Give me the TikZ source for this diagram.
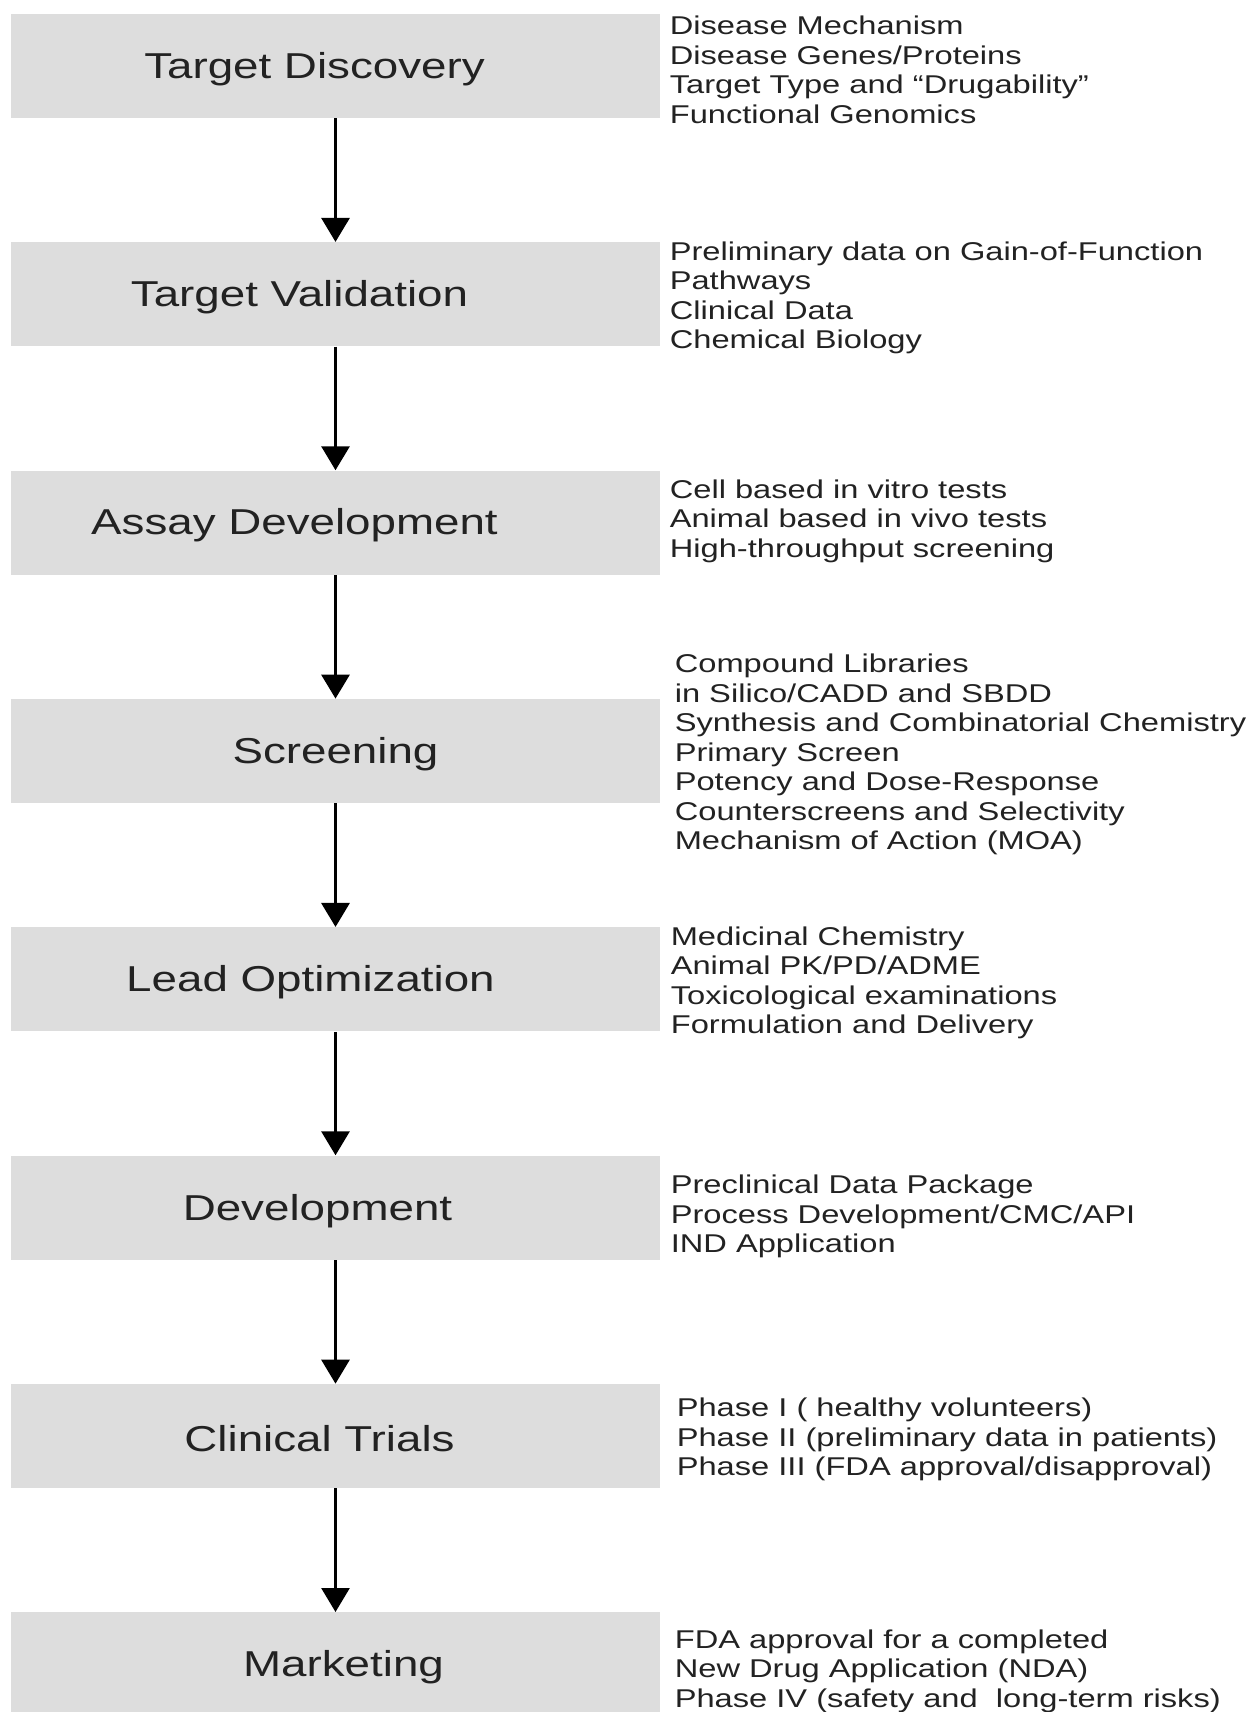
\documentclass[tikz,border=0pt]{standalone}
\usepackage{fontspec}
\setmainfont{Liberation Sans}[FakeStretch=1.27]
\usetikzlibrary{arrows.meta,positioning}

\definecolor{boxgray}{RGB}{221,221,221}
\definecolor{ink}{RGB}{34,34,34}

\begin{document}
\begin{tikzpicture}[>={Triangle[length=12pt,width=14pt]},node distance=114.17pt,
                    stage/.style={fill=boxgray,minimum width=324.5pt,minimum height=52pt,inner sep=0pt},
                    stagelabel/.style={text=ink,font=\fontsize{18}{21}\selectfont,inner sep=0pt,yshift=-1.5pt},
                    notes/.style={text=ink,font=\fontsize{12.85}{14.75}\selectfont,align=left,inner sep=0pt,yshift=-1.8pt},
                    flow/.style={->,line width=1.5pt}]

  \useasboundingbox (0,0) rectangle (625pt,-856pt);

  \node[stage]         (td) at (167.75pt,-33pt) {};
  \node[stage]         (tv) [below of=td] {};
  \node[stage]         (ad) [below of=tv] {};
  \node[stage]         (sc) [below of=ad] {};
  \node[stage]         (lo) [below of=sc] {};
  \node[stage]         (dv) [below of=lo] {};
  \node[stage]         (ct) [below of=dv] {};
  \node[stage]         (mk) [below of=ct] {};

  \node[stagelabel, xshift=-10.5pt] (tdl) at (td) {Target Discovery};
  \node[stagelabel, xshift=-18pt]   (tvl) at (tv) {Target Validation};
  \node[stagelabel, xshift=-20.5pt] (adl) at (ad) {Assay Development};
  \node[stagelabel]                 (scl) at (sc) {Screening};
  \node[stagelabel, xshift=-12.5pt] (lol) at (lo) {Lead Optimization};
  \node[stagelabel, xshift=-9pt]    (dvl) at (dv) {Development};
  \node[stagelabel, xshift=-8pt]    (ctl) at (ct) {Clinical Trials};
  \node[stagelabel, xshift=4pt]     (mkl) at (mk) {Marketing};

  \node[notes] (tdn) [right=4.5pt of td]
    {Disease Mechanism\\Disease Genes/Proteins\\Target Type and “Drugability”\\Functional Genomics};
  \node[notes] (tvn) [right=4.5pt of tv]
    {Preliminary data on Gain-of-Function\\Pathways\\Clinical Data\\Chemical Biology};
  \node[notes, yshift=2.7pt] (adn) [right=4.5pt of ad]
    {Cell based in vitro tests\\Animal based in vivo tests\\High-throughput screening};
  \node[notes] (scn) [right=7pt of sc]
    {Compound Libraries\\in Silico/CADD and SBDD\\Synthesis and Combinatorial Chemistry\\Primary Screen\\Potency and Dose-Response\\Counterscreens and Selectivity\\Mechanism of Action (MOA)};
  \node[notes] (lon) [right=5pt of lo]
    {Medicinal Chemistry\\Animal PK/PD/ADME\\Toxicological examinations\\Formulation and Delivery};
  \node[notes, yshift=-2.7pt] (dvn) [right=5pt of dv]
    {Preclinical Data Package\\Process Development/CMC/API\\IND Application};
  \node[notes] (ctn) [right=8pt of ct]
    {Phase I ( healthy volunteers)\\Phase II (preliminary data in patients)\\Phase III (FDA approval/disapproval)};
  \node[notes, yshift=-1.5pt] (mkn) [right=7pt of mk]
    {FDA approval for a completed\\New Drug Application (NDA)\\Phase IV (safety and\ \ long-term risks)};

  \path (td) edge[flow] (tv)
        (tv) edge[flow] (ad)
        (ad) edge[flow] (sc)
        (sc) edge[flow] (lo)
        (lo) edge[flow] (dv)
        (dv) edge[flow] (ct)
        (ct) edge[flow] (mk);
\end{tikzpicture}
\end{document}
